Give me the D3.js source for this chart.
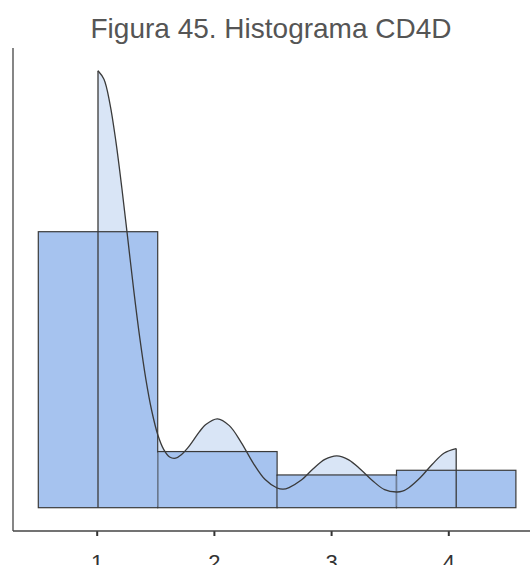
<!DOCTYPE html>
<html>
<head>
<meta charset="utf-8">
<script src="https://cdn.jsdelivr.net/npm/d3@7"></script>
<style>
  html, body { margin: 0; padding: 0; background: #fff; }
  svg { display: block; }
</style>
</head>
<body>
<svg id="chart" width="530" height="565"></svg>
<script>
// ---- data ----
const title = "Figura 45. Histograma CD4D";
const binCenters = [1, 2, 3, 4];
const binCounts = [59, 12, 7, 8];
const tickValues = [1, 2, 3, 4];
const tickLabels = ["1", "2", "3", "4"];
// density curve (x, density)
const densX = [1.00, 1.05, 1.10, 1.15, 1.20, 1.25, 1.30, 1.35, 1.40, 1.45, 1.50, 1.55, 1.60, 1.65, 1.70, 1.75, 1.80, 1.85, 1.90,
               2.00, 2.10, 2.20, 2.30, 2.40, 2.50, 2.55, 2.60, 2.70, 2.80, 2.90, 3.00, 3.10, 3.20, 3.30, 3.40, 3.50, 3.55, 3.60, 3.70, 3.80, 3.90, 4.00];
const densY = [1.086, 1.065, 1.004, 0.910, 0.794, 0.667, 0.539, 0.422, 0.321, 0.241, 0.182, 0.145, 0.126, 0.123, 0.132, 0.148, 0.168, 0.189, 0.206,
               0.221, 0.204, 0.162, 0.111, 0.070, 0.049, 0.046, 0.050, 0.068, 0.096, 0.120, 0.129, 0.119, 0.095, 0.067, 0.045, 0.039, 0.041, 0.049, 0.075, 0.108, 0.136, 0.147];

const total = d3.sum(binCounts);
const bins = binCenters.map((c, i) => ({ x0: c - 0.5, x1: c + 0.5, d: binCounts[i] / total }));
const dens = densX.map((x, i) => ({ x, y: densY[i] }));

const svg = d3.select("#chart");

// scales
const x = d3.scaleLinear().domain([1, 4]).range([98, 456.2]);
const xAxisScale = d3.scaleLinear().domain([1, 4]).range([96.7, 448.3]);
const y = d3.scaleLinear().domain([0, 1]).range([507.7, 105.4]);

const lineCol = "#3a3a3a";

// title
svg.append("text")
  .attr("x", 271).attr("y", 37.5)
  .attr("text-anchor", "middle")
  .attr("font-family", "Liberation Sans, Arial, sans-serif")
  .attr("font-size", 28)
  .attr("fill", "#555")
  .text(title);

// density fill (beneath bars)
const area = d3.area().x(d => x(d.x)).y0(y(0)).y1(d => y(d.y)).curve(d3.curveCatmullRom);
svg.append("path").datum(dens)
  .attr("d", area)
  .attr("fill", "#d9e5f6");

// bars
svg.append("g").selectAll("rect").data(bins).join("rect")
  .attr("x", d => x(d.x0))
  .attr("width", d => x(d.x1) - x(d.x0))
  .attr("y", d => y(d.d))
  .attr("height", d => y(0) - y(d.d))
  .attr("fill", "#a6c3ef")
  .attr("stroke", lineCol)
  .attr("stroke-width", 1.2);

// lighter inner dividers (where bars meet, below the lower bar)
const dividers = bins.slice(1).map((b, i) => ({ xv: b.x0, top: Math.min(b.d, bins[i].d) }));
svg.append("g").selectAll("line").data(dividers).join("line")
  .attr("x1", d => x(d.xv)).attr("x2", d => x(d.xv))
  .attr("y1", d => y(d.top) + 1).attr("y2", y(0) - 1)
  .attr("stroke", "#6f7f97")
  .attr("stroke-width", 1.2);

// density outline (with vertical ends)
const line = d3.line().x(d => x(d.x)).y(d => y(d.y)).curve(d3.curveCatmullRom);
svg.append("path").datum(dens)
  .attr("d", line)
  .attr("fill", "none")
  .attr("stroke", lineCol)
  .attr("stroke-width", 1.3);
[dens[0], dens[dens.length - 1]].forEach(p => {
  svg.append("line")
    .attr("x1", x(p.x)).attr("x2", x(p.x))
    .attr("y1", y(p.y)).attr("y2", y(0))
    .attr("stroke", lineCol).attr("stroke-width", 1.3);
});

// axes
svg.append("line")
  .attr("x1", 13).attr("x2", 13).attr("y1", 48).attr("y2", 531)
  .attr("stroke", "#444").attr("stroke-width", 1.3);
const xAxis = d3.axisBottom(xAxisScale).tickValues(tickValues).tickFormat((d, i) => tickLabels[i]).tickSize(5).tickPadding(18);
const gx = svg.append("g").attr("transform", "translate(0,531)").call(xAxis);
gx.select(".domain").remove();
gx.append("line").attr("x1", 13).attr("x2", 530).attr("y1", 0).attr("y2", 0)
  .attr("stroke", "#444").attr("stroke-width", 1.3);
gx.selectAll(".tick line").attr("stroke", "#333").attr("stroke-width", 2);
gx.selectAll(".tick text")
  .attr("font-family", "Liberation Sans, Arial, sans-serif")
  .attr("font-size", 22)
  .attr("fill", "#333");
</script>
</body>
</html>
